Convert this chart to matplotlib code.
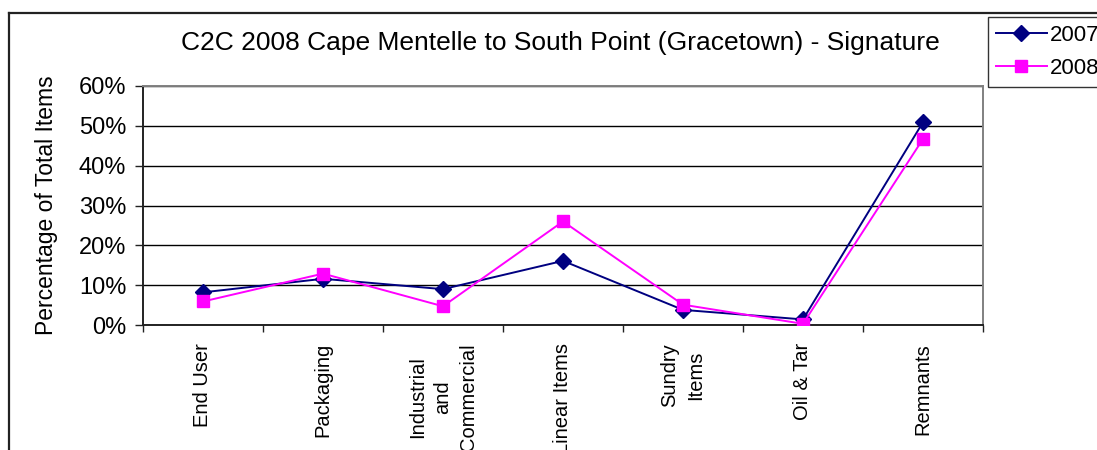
import matplotlib
matplotlib.use("Agg")
import matplotlib.pyplot as plt
from matplotlib.lines import Line2D
from matplotlib.ticker import FixedLocator, PercentFormatter

plt.rcParams['font.family'] = ['Liberation Sans', 'DejaVu Sans']

categories = ["End User", "Packaging", "Industrial\nand\nCommercial", "Linear Items",
              "Sundry\nItems", "Oil & Tar", "Remnants"]
pct_2007 = [8.2, 11.6, 9.0, 16.1, 3.8, 1.4, 50.9]
pct_2008 = [5.9, 12.9, 4.7, 26.0, 5.1, 0.3, 46.7]
y_ticks = [0, 10, 20, 30, 40, 50, 60]

W, H = 1097, 450
fig = plt.figure(figsize=(W / 100, H / 100), dpi=100)
fig.patch.set_facecolor("white")

# outer chart frame (continues past the right and bottom edges)
frame_kw = dict(color="#222222", linewidth=1.6, transform=fig.transFigure)
fig.add_artist(Line2D([9 / W, 9 / W], [0, 1 - 13 / H], **frame_kw))
fig.add_artist(Line2D([9 / W, 1.0], [1 - 13 / H, 1 - 13 / H], **frame_kw))

ax = fig.add_axes([143 / W, 1 - 325 / H, (983 - 143) / W, (325 - 86) / H])
x = list(range(len(categories)))

ax.plot(x, pct_2007, color="#000080", linewidth=1.4, marker="D", markersize=8,
        markerfacecolor="#000080", markeredgecolor="#000080", label="2007", zorder=3)
ax.plot(x, pct_2008, color="#FF00FF", linewidth=1.4, marker="s", markersize=8,
        markerfacecolor="#FF00FF", markeredgecolor="#FF00FF", label="2008", zorder=3)

ax.set_xlim(-0.5, len(categories) - 0.5)
ax.set_ylim(0, 60)
ax.set_yticks(y_ticks)
ax.yaxis.set_major_formatter(PercentFormatter(decimals=0))
ax.yaxis.grid(True, color="black", linewidth=1.0)
ax.set_axisbelow(True)

ax.set_xticks(x)
ax.set_xticklabels(categories, rotation=90, ha="center", va="top",
                   multialignment="center", fontsize=14.5, linespacing=1.45)
ax.xaxis.set_minor_locator(FixedLocator([i - 0.5 for i in range(len(categories) + 1)]))
ax.tick_params(axis="x", which="major", length=0, pad=13)
ax.tick_params(axis="x", which="minor", length=5, width=1, color="#222222", direction="out")
ax.tick_params(axis="y", length=6, width=1, color="#222222", labelsize=17, pad=6)

for side in ("left", "bottom"):
    ax.spines[side].set_color("#222222")
    ax.spines[side].set_linewidth(1.4)
for side in ("top", "right"):
    ax.spines[side].set_color("#808080")
    ax.spines[side].set_linewidth(1.4)

ax.set_ylabel("Percentage of Total Items", fontsize=16.5)
ax.yaxis.set_label_coords(-85 / (983 - 143), 0.5)

fig.text(560 / W, 1 - 43 / H, "C2C 2008 Cape Mentelle to South Point (Gracetown) - Signature",
         ha="center", va="center", fontsize=19)

leg = fig.legend(loc="upper left", bbox_to_anchor=(988 / W, 1 - 17 / H),
                 bbox_transform=fig.transFigure, fontsize=16, frameon=True,
                 fancybox=False, handlelength=2.3, handletextpad=0.15,
                 labelspacing=0.55, borderpad=0.35, borderaxespad=0)
leg.get_frame().set_edgecolor("black")
leg.get_frame().set_linewidth(1.0)

fig.savefig("out.png", dpi=100, facecolor="white")
